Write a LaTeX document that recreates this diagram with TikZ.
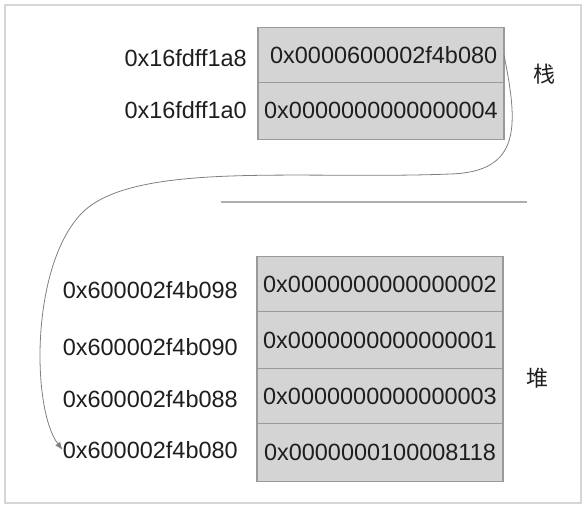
\documentclass[tikz,border=0pt]{standalone}
\usepackage{fontspec}
\setmainfont{Liberation Sans}
\newfontfamily\cjk{Noto Sans CJK SC}
\usetikzlibrary{positioning, arrows.meta}
\definecolor{cellgray}{HTML}{D4D4D4}
\definecolor{edgegray}{HTML}{9A9A9A}
\definecolor{framegray}{HTML}{D6D6D6}
\definecolor{inkgray}{HTML}{1E1E1E}
\tikzset{
	cell/.style={draw=edgegray, fill=cellgray, line width=0.9pt, minimum width=184.5pt, inner sep=0pt, outer sep=0pt, text=inkgray, font=\fontsize{17.6}{20}\selectfont},
	addr/.style={inner sep=0pt, text=inkgray, font=\fontsize{17.6}{20}\selectfont},
	area/.style={inner sep=0pt, text=inkgray, font=\cjk\fontsize{16.5}{18}\selectfont},
	pointer/.style={draw=gray, line width=0.6pt, ->, >={Latex[length=6pt, width=4.5pt]}},
}

\begin{document}
\begin{tikzpicture}[x=0.75pt, y=-0.75pt]
	\useasboundingbox (0,0) rectangle (586,508);
	%frame
	\draw[framegray, line width=0.8pt] (5,5) rectangle (581,503);
	
	%stack
	\node[cell, minimum height=41.25pt] (s1) at (381,55) {\hspace{4pt}0x0000600002f4b080};
	\node[cell, minimum height=42.5pt, below=0pt of s1] (s2) {0x0000000000000004};
	\node[addr, anchor=east] (sa1) at (247,58) {0x16fdff1a8};
	\node[addr, anchor=east] (sa2) at (247,110) {0x16fdff1a0};
	\node[area] (stk) at (544,74) {栈};
	
	%separator
	\draw[edgegray!80, line width=1.2pt] (221,202)--(527,202);
	
	%heap
	\node[cell, minimum height=41.25pt] (h1) at (380,284) {0x0000000000000002};
	\node[cell, minimum height=42.75pt, below=0pt of h1] (h2) {0x0000000000000001};
	\node[cell, minimum height=41.25pt, below=0pt of h2] (h3) {0x0000000000000003};
	\node[cell, minimum height=43.5pt, below=0pt of h3] (h4) {0x0000000100008118};
	\node[addr, anchor=east] (ha1) at (238,290) {0x600002f4b098};
	\node[addr, anchor=east] (ha2) at (238,347) {0x600002f4b090};
	\node[addr, anchor=east] (ha3) at (238,399) {0x600002f4b088};
	\node[addr, anchor=east] (ha4) at (238,450) {0x600002f4b080};
	\node[area] (hp) at (537,378) {堆};
	
	%pointer
	\draw[pointer] (s1.east) .. controls (518,125) and (522,172) .. (450,174)
		.. controls (300,180) and (130,160) .. (80,215)
		.. controls (30,270) and (32,410) .. (ha4.west);
\end{tikzpicture}
\end{document}
